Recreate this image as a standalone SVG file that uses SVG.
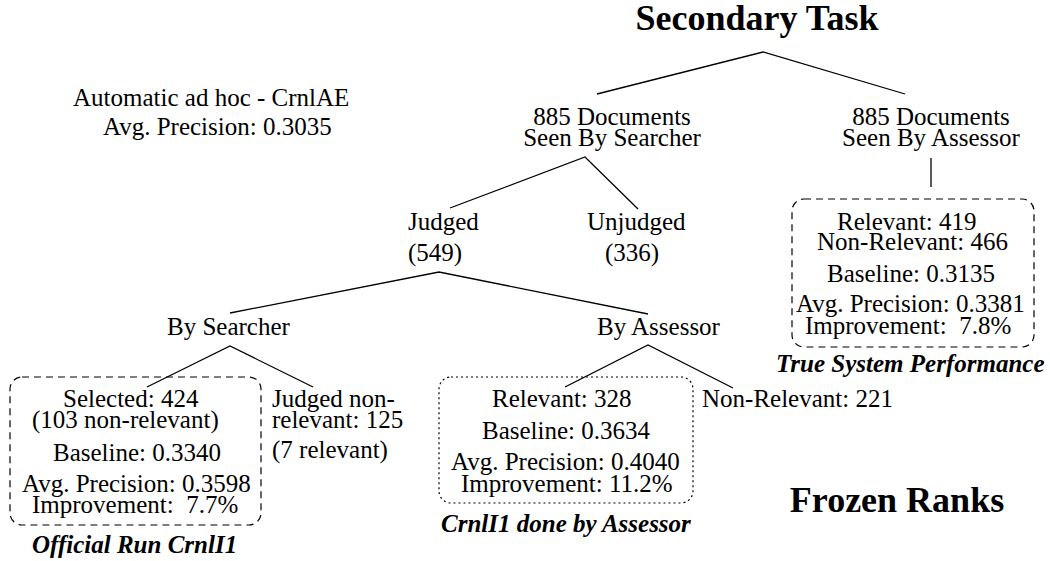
<svg xmlns="http://www.w3.org/2000/svg" width="1050" height="561" viewBox="0 0 1050 561">
<style>
text { font-family: "Liberation Serif", "Times New Roman", serif; font-size: 25px; fill: #000; white-space: pre; }
.title { font-weight: bold; font-size: 36px; }
.cap { font-weight: bold; font-style: italic; }
.mid { text-anchor: middle; }
.conn { fill: none; stroke: #000; stroke-width: 1.3; }
.dash { fill: none; stroke: #000; stroke-width: 1.2; stroke-dasharray: 7 5; }
.dot { fill: none; stroke: #000; stroke-width: 1.2; stroke-dasharray: 2 3; }
</style>
<rect width="1050" height="561" fill="#fff"/>
<g id="connectors">
<polyline class="conn" points="597,94 763,52 905,94"/>
<polyline class="conn" points="450,208 585,157 638,209"/>
<polyline class="conn" points="230,313 439,272 648,314"/>
<polyline class="conn" points="147,387 230,346 313,387"/>
<polyline class="conn" points="565,387 648,345 733,388"/>
<line class="conn" x1="931" y1="158" x2="931" y2="187"/>
</g>
<g id="secondary-task"><text class="title mid" x="757" y="30">Secondary Task</text></g>
<g id="frozen-ranks"><text class="title mid" x="897" y="512">Frozen Ranks</text></g>
<g id="automatic">
<text x="73" y="106">Automatic ad hoc - CrnlAE</text>
<text x="103" y="135">Avg. Precision: 0.3035</text>
</g>
<g id="seen-by-searcher">
<text class="mid" x="612" y="125">885 Documents</text>
<text class="mid" x="612" y="146">Seen By Searcher</text>
</g>
<g id="seen-by-assessor">
<text class="mid" x="931" y="125">885 Documents</text>
<text class="mid" x="931" y="146">Seen By Assessor</text>
</g>
<g id="judged">
<text x="408" y="230">Judged</text>
<text x="408" y="261">(549)</text>
</g>
<g id="unjudged">
<text x="587" y="230">Unjudged</text>
<text x="605" y="261">(336)</text>
</g>
<g id="by-searcher"><text x="167" y="335">By Searcher</text></g>
<g id="by-assessor"><text x="597" y="335">By Assessor</text></g>
<g id="official-run">
<rect class="dash" x="10" y="377" width="251" height="148" rx="12"/>
<text x="63" y="407">Selected: 424</text>
<text x="32" y="428">(103 non-relevant)</text>
<text x="53" y="461">Baseline: 0.3340</text>
<text x="22" y="492">Avg. Precision: 0.3598</text>
<text x="32" y="513">Improvement:  7.7%</text>
<text class="cap" x="32" y="553">Official Run CrnlI1</text>
</g>
<g id="judged-nonrelevant">
<text x="272" y="407">Judged non-</text>
<text x="272" y="428">relevant: 125</text>
<text x="272" y="458">(7 relevant)</text>
</g>
<g id="done-by-assessor">
<rect class="dot" x="439" y="377" width="254" height="126" rx="12"/>
<text x="492" y="407">Relevant: 328</text>
<text x="482" y="439">Baseline: 0.3634</text>
<text x="451" y="470">Avg. Precision: 0.4040</text>
<text x="461" y="492">Improvement: 11.2%</text>
<text class="cap" x="441" y="532">CrnlI1 done by Assessor</text>
</g>
<g id="non-relevant-221"><text x="702" y="407">Non-Relevant: 221</text></g>
<g id="true-system">
<rect class="dash" x="792" y="199" width="242" height="148" rx="12"/>
<text x="837" y="230">Relevant: 419</text>
<text x="817" y="250">Non-Relevant: 466</text>
<text x="827" y="282">Baseline: 0.3135</text>
<text x="796" y="312">Avg. Precision: 0.3381</text>
<text x="805" y="334">Improvement:  7.8%</text>
<text class="cap" x="776" y="372">True System Performance</text>
</g>
</svg>
